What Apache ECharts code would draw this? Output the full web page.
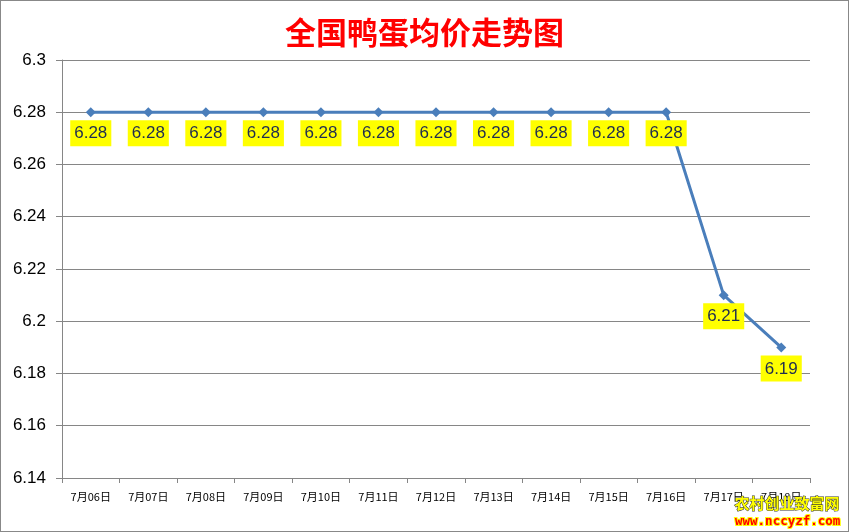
<!DOCTYPE html>
<html lang="zh">
<head>
    <meta charset="UTF-8">
    <title>全国鸭蛋均价走势图</title>
    <script src="https://cdn.jsdelivr.net/npm/echarts@6/dist/echarts.min.js"></script>
    <style>
        html, body { margin: 0; padding: 0; background: #fff; }
        #main { width: 849px; height: 532px; box-sizing: border-box; border: 1px solid #888; }
    </style>
</head>
<body>
    <div id="main"></div>
</body>
<script>
    // 日期
    var days = ['7月06日','7月07日','7月08日','7月09日','7月10日','7月11日','7月12日',
                '7月13日','7月14日','7月15日','7月16日','7月17日','7月18日'];
    // 均价（元/斤）
    var prices = [6.28,6.28,6.28,6.28,6.28,6.28,6.28,6.28,6.28,6.28,6.28,6.21,6.19];
    var yMin = 6.14, yMax = 6.3, yStep = 0.02;

    var myChart = echarts.init(document.getElementById('main'));

    var option = {
        animation: false,
        title: {
            text: '全国鸭蛋均价走势图',
            left: 'center',
            top: 11,
            textStyle: {
                color: '#ff0000',
                fontSize: 31,
                fontWeight: 'bold',
                fontFamily: 'Noto Sans CJK SC'
            }
        },
        grid: { left: 61, right: 38, top: 59, bottom: 53 },
        xAxis: {
            type: 'category',
            data: days,
            boundaryGap: true,
            axisLine: { lineStyle: { color: '#868686' } },
            axisTick: { show: true, alignWithLabel: false, length: 5, lineStyle: { color: '#868686' } },
            axisLabel: { interval: 0, color: '#000', fontSize: 11, margin: 13, fontFamily: 'Noto Sans CJK SC' },
            splitLine: { show: false }
        },
        yAxis: {
            type: 'value',
            min: yMin,
            max: yMax,
            interval: yStep,
            axisLine: { show: true, lineStyle: { color: '#868686' } },
            axisTick: { show: true, length: 6, lineStyle: { color: '#868686' } },
            axisLabel: {
                color: '#000', fontSize: 17, margin: 16, fontFamily: 'Liberation Sans',
                formatter: function (v) { return String(Math.round(v * 100) / 100); }
            },
            splitLine: { show: true, lineStyle: { color: '#868686', width: 1 } }
        },
        series: [{
            type: 'line',
            data: prices,
            symbol: 'diamond',
            symbolSize: 10,
            lineStyle: { color: '#4a7ebb', width: 3 },
            itemStyle: { color: '#4a7ebb' },
            label: {
                show: true,
                position: 'bottom',
                distance: 3,
                backgroundColor: '#ffff00',
                padding: [5, 4, 4, 4],
                color: '#1f2d50',
                fontSize: 17,
                fontFamily: 'Liberation Sans',
                formatter: function (p) { return p.value.toFixed(2); }
            }
        }],
        graphic: [
            {
                type: 'text',
                left: 733,
                top: 494,
                z: 100,
                style: {
                    text: '农村创业致富网',
                    fill: '#ffff00',
                    stroke: '#333',
                    lineWidth: 1,
                    font: 'bold 15px "Noto Sans CJK SC"'
                }
            },
            {
                type: 'text',
                left: 733,
                top: 513,
                z: 100,
                style: {
                    text: 'www.nccyzf.com',
                    fill: '#ff0000',
                    stroke: '#ffff00',
                    lineWidth: 2,
                    font: 'bold 12.5px "DejaVu Sans Mono"'
                }
            }
        ]
    };

    myChart.setOption(option);
</script>
</html>
